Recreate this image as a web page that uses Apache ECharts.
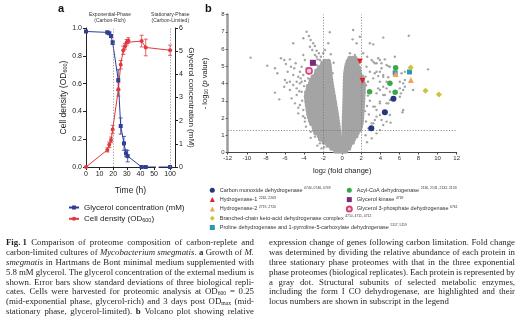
<!DOCTYPE html>
<html><head><meta charset="utf-8">
<script src="https://cdn.jsdelivr.net/npm/echarts@6/dist/echarts.min.js"></script>
<style>html,body{margin:0;padding:0;background:#fff}#c{width:523px;height:324px}</style>
</head><body><div id="c"></div>
<script>
// ---------------- Panel a data ----------------
const timeTicks = [0, 10, 20, 30, 40, 50, 100];
const glyTime = [0, 15.7, 17.1, 18.4, 19.6, 23.7, 25.5, 27.9, 29.4, 30.6, 40.9, 43.9, 100];
const glyConc = [5.85, 5.81, 5.77, 5.65, 5.37, 3.75, 1.77, 1.02, 0.59, 0.47, 0, 0, 0];
const glyErr  = [0.04, 0.06, 0.05, 0.06, 0.08, 0.45, 0.35, 0.3, 0.15, 0.25, 0.02, 0.02, 0.02];
const odTime = [0, 15.7, 17.1, 18.4, 19.6, 23.8, 25.5, 27.4, 28.7, 29.9, 31.1, 40.9, 43.9, 100];
const odVal  = [0.0, 0.123, 0.16, 0.195, 0.27, 0.56, 0.736, 0.84, 0.868, 0.897, 0.91, 0.906, 0.86, 0.84];
const odErr  = [0.0, 0.015, 0.02, 0.02, 0.03, 0.05, 0.03, 0.03, 0.02, 0.02, 0.02, 0.042, 0.06, 0.037];
const phaseTimes = [20, 100];

// ---------------- Panel b data ----------------
const coreLeftRows = [
[0.08,[-0.1,-0.38,-0.68]],[0.25,[-0.16,-0.47,-0.79,-1.08]],[0.42,[-0.21,-0.53,-0.87,-1.19,-1.48]],
[0.6,[-0.25,-0.58,-0.93,-1.27,-1.6,-1.88]],[0.78,[-0.29,-0.63,-0.98,-1.33,-1.68,-2.0,-2.27]],
[0.96,[-0.32,-0.67,-1.03,-1.38,-1.74,-2.08,-2.4]],[1.14,[-0.36,-0.71,-1.07,-1.43,-1.78,-2.13,-2.48,-2.76]],
[1.32,[-0.4,-0.75,-1.11,-1.47,-1.83,-2.19,-2.54,-2.88]],[1.5,[-0.43,-0.79,-1.15,-1.51,-1.87,-2.23,-2.59,-2.95]],
[1.68,[-0.47,-0.83,-1.19,-1.55,-1.91,-2.27,-2.63,-2.98,-3.2]],[1.86,[-0.52,-0.88,-1.24,-1.6,-1.95,-2.31,-2.67,-3.03,-3.32]],
[2.04,[-0.56,-0.92,-1.28,-1.64,-2.0,-2.36,-2.72,-3.08,-3.42]],[2.22,[-0.61,-0.97,-1.33,-1.69,-2.05,-2.41,-2.77,-3.13,-3.5]],
[2.4,[-0.66,-1.02,-1.38,-1.74,-2.1,-2.46,-2.82,-3.18,-3.55]],[2.58,[-0.71,-1.07,-1.43,-1.79,-2.15,-2.51,-2.87,-3.23,-3.6]],
[2.76,[-0.77,-1.13,-1.49,-1.85,-2.21,-2.57,-2.93,-3.29,-3.65]],[2.94,[-0.82,-1.18,-1.54,-1.9,-2.26,-2.62,-2.98,-3.34,-3.7]],
[3.12,[-0.88,-1.24,-1.6,-1.96,-2.32,-2.68,-3.04,-3.4,-3.72]],[3.3,[-0.93,-1.29,-1.65,-2.01,-2.37,-2.73,-3.09,-3.45,-3.74]],
[3.48,[-0.99,-1.35,-1.71,-2.07,-2.43,-2.79,-3.15,-3.5,-3.72]],[3.66,[-1.04,-1.4,-1.76,-2.12,-2.48,-2.84,-3.2,-3.56]],
[3.84,[-1.1,-1.46,-1.82,-2.18,-2.54,-2.9,-3.25,-3.54]],[4.02,[-1.15,-1.51,-1.87,-2.23,-2.59,-2.95,-3.3]],
[4.2,[-1.2,-1.56,-1.92,-2.28,-2.64,-3.0,-3.24]],[4.38,[-1.25,-1.61,-1.97,-2.33,-2.69,-3.04]],
[4.56,[-1.28,-1.64,-2.0,-2.36,-2.72]],[4.74,[-1.31,-1.67,-2.03,-2.39,-2.66]],[4.92,[-1.34,-1.7,-2.06,-2.38]],
[5.1,[-1.38,-1.74,-2.08]],[5.28,[-1.45,-1.8]]
];
const coreRightRows = [
[0.08,[0.08,0.36]],[0.25,[0.11,0.41,0.68]],[0.42,[0.13,0.45,0.77]],[0.6,[0.14,0.48,0.82,1.06]],
[0.78,[0.15,0.5,0.85,1.18]],[0.96,[0.17,0.52,0.87,1.22,1.44]],[1.14,[0.18,0.54,0.89,1.25,1.57]],
[1.32,[0.19,0.55,0.91,1.27,1.62,1.8]],[1.5,[0.2,0.56,0.92,1.28,1.64,1.9]],[1.68,[0.21,0.57,0.93,1.29,1.65,1.97]],
[1.86,[0.22,0.58,0.94,1.3,1.66,2.01]],[2.04,[0.23,0.59,0.95,1.31,1.67,2.04]],[2.22,[0.24,0.6,0.96,1.32,1.68,2.06]],
[2.4,[0.25,0.61,0.97,1.33,1.69,2.08]],[2.58,[0.26,0.62,0.98,1.34,1.7,2.1]],[2.76,[0.27,0.63,0.99,1.35,1.71,2.12]],
[2.94,[0.28,0.64,1.0,1.36,1.72,2.14]],[3.12,[0.29,0.65,1.01,1.37,1.73,2.16]],[3.3,[0.3,0.66,1.02,1.38,1.74,2.18]],
[3.48,[0.31,0.67,1.03,1.39,1.75,2.2]],[3.66,[0.31,0.67,1.03,1.39,1.75,2.21]],[3.84,[0.32,0.68,1.04,1.4,1.76,2.22]],
[4.02,[0.32,0.68,1.04,1.4,1.76,2.2]],[4.2,[0.33,0.69,1.05,1.41,1.77,2.12]],[4.38,[0.34,0.7,1.06,1.42,1.78,2.04]],
[4.56,[0.36,0.72,1.08,1.44,1.8]],[4.74,[0.4,0.76,1.12,1.48,1.77]],[4.92,[0.45,0.8,1.15,1.5,1.7]],
[5.1,[0.52,0.86,1.2,1.52]],[5.28,[0.62,0.95,1.28,1.48]],[5.46,[0.8,1.1,1.34]]
];
const grayScatter = [
[-9.6,5.5],[-7.85,5.03],[-7.05,4.88],[-6.8,4.59],[-6.42,5.46],[-6.07,5.36],[-5.9,5.13],[-5.48,5.4],[-5.37,4.97],
[-5.03,4.88],[-4.88,5.17],[-5.72,4.68],[-5.13,4.49],[-4.61,4.39],[-4.43,4.68],[-4.25,4.97],[-3.91,5.36],[-4.08,5.65],
[-5.13,6.33],[-4.08,6.62],[-3.73,7.0],[-3.49,6.75],[-3.31,6.52],[-3.04,6.33],[-2.86,6.17],[-3.38,6.13],[-3.14,5.94],
[-2.68,5.9],[-2.44,5.75],[-2.86,5.65],[-2.23,5.55],[-2.58,5.4],[-2.16,5.26],[-2.68,5.07],[-2.34,4.97],[-3.73,4.88],
[-4.08,4.49],[-3.56,4.3],[-3.04,4.39],[-2.51,4.59],[-4.77,4.1],[-5.48,4.1],[-6.0,4.2],[-4.25,4.1],
[-7.05,3.47],[-6.6,3.08],[-6.07,3.81],[-5.8,4.05],[-5.48,3.62],[-5.13,3.91],[-4.77,3.72],[-4.43,4.01],[-4.25,3.52],
[-4.77,3.33],[-5.3,3.14],[-3.91,3.23],[-4.95,2.85],[-4.43,2.75],[-4.08,2.46],[-4.61,2.27],[-3.38,1.88],[-3.91,1.79],
[-3.04,1.4],[-2.86,0.92],[-2.34,1.11],[-1.99,0.82],[-2.34,0.53],[-2.16,0.24],
[-4.2,3.0],[-4.5,3.55],[-4.0,3.85],[-4.35,4.3],[-3.9,4.15],[-4.6,2.6],[-4.1,2.1],[-3.8,1.5],[-3.3,1.2],[-3.9,2.0],
[-3.3,0.85],[-2.6,0.4],[-1.9,0.3],
[-1.3,6.97],[-1.46,6.33],[-1.99,5.75],[-2.34,5.36],[-1.81,5.94],[-2.68,5.55],[-1.71,5.17],[-1.2,5.7],[-0.9,5.2],[-1.0,4.6],
[1.15,7.1],[1.85,6.71],[1.09,6.56],[1.51,6.33],[2.9,6.33],[3.25,6.27],[0.81,5.75],[1.33,5.65],[2.2,5.75],[2.62,5.55],
[3.08,5.36],[3.42,5.17],[2.55,4.97],[2.9,4.68],[3.42,4.59],[0.81,5.36],[0.46,5.07],
[4.3,6.66],[6.98,6.77],[9.0,4.82],[5.52,5.55],[3.77,5.46],[3.95,5.36],[4.65,5.07],[5.0,4.97],
[3.25,5.26],[3.6,5.17],[4.12,4.88],[3.95,4.68],[3.77,4.43],[4.3,4.39],[3.25,4.3],[4.65,4.1],[4.3,3.81],[4.65,3.72],
[3.95,3.62],[3.6,3.43],[4.3,3.33],[5.0,3.52],[6.04,4.1],[6.57,4.2],[6.39,3.62],[7.43,3.62],[6.04,3.23],[5.0,3.04],
[4.65,2.85],[3.95,2.85],[3.25,2.66],[3.6,2.46],[3.95,2.17],[5.0,2.17],[3.42,1.88],[3.08,1.69],[6.32,2.33],[4.3,1.59],
[3.6,1.11],[4.12,5.17],[4.47,5.4],[4.82,5.01],[3.6,4.68],[4.3,4.49],[4.82,4.36],[3.95,4.1],[6.22,4.59],[6.57,4.68],
[6.04,3.72],[3.77,3.72],[4.47,3.33],[3.95,2.95],[3.42,2.66],[4.82,2.85],[3.6,2.08],[4.12,1.88],[3.25,1.69],[6.39,2.46],
[5.07,1.73],[3.95,1.3],[6.39,4.01],[6.57,3.81],[6.15,3.43],[4.65,1.79],
[2.5,3.9],[2.7,3.3],[2.6,2.7],[2.8,2.2],[2.5,1.8],[2.75,1.4],[2.45,1.0],[3.1,0.82],[2.6,0.6],[2.9,3.0],[2.45,4.4],
[2.7,4.1],[2.4,2.4]
];
const coPts   = [[3.05,1.4],[4.47,2.33],[5.37,3.12]];
const h1Pts   = [[1.85,5.28],[2.13,4.16]];
const h2Pts   = [[5.6,4.55],[7.2,4.2]];
const bckPts  = [[7.18,4.93],[8.73,3.58],[10.14,3.36]];
const proPts  = [[7.05,4.67],[5.55,4.62]];
const acylPts = [[2.87,3.52],[5.0,4.02],[5.55,3.5],[5.6,4.92]];
const gkPts   = [[-3.07,5.2]];
const g3pPts  = [[-3.47,4.73]];
const volcanoThresholds = {fold: [-2, 2], p: 1.3};

const names = {
  co: 'Carbon monoxide dehydrogenase', h1: 'Hydrogenase-1', h2: 'Hydrogenase-2',
  bck: 'Branched-chain keto-acid dehydrogenase complex',
  pro: 'Proline dehydrogenase and 1-pyrroline-5-carboxylate dehydrogenase',
  acyl: 'Acyl-CoA dehydrogenase', gk: 'Glycerol kinase', g3p: 'Glycerol 3-phosphate dehydrogenase'
};
const loci = {
  co: '0744, 0746, 0749', h1: '2262, 2263', h2: '2719, 2720', bck: '4710, 4711, 4712',
  pro: '5117, 5119', acyl: '2130, 2131, 2132, 2133', gk: '4769', g3p: '6761'
};

// ---------------- Caption ----------------
const capLeft = [
 '{b|Fig. 1} Comparison of proteome composition of carbon-replete and',
 'carbon-limited cultures of {i|Mycobacterium smegmatis}. {b|a} Growth of {i|M.}',
 '{i|smegmatis} in Hartmans de Bont minimal medium supplemented with',
 '5.8 mM glycerol. The glycerol concentration of the external medium is',
 'shown. Error bars show standard deviations of three biological repli-',
 'cates. Cells were harvested for proteomic analysis at OD{sub|600} = 0.25',
 '(mid-exponential phase, glycerol-rich) and 3 days post OD{sub|max} (mid-',
 'stationary phase, glycerol-limited). {b|b} Volcano plot showing relative'
];
const capRight = [
 'expression change of genes following carbon limitation. Fold change',
 'was determined by dividing the relative abundance of each protein in',
 'three stationary phase proteomes with that in the three exponential',
 'phase proteomes (biological replicates). Each protein is represented by',
 'a gray dot. Structural subunits of selected metabolic enzymes,',
 'including the form I CO dehydrogenase, are highlighted and their',
 'locus numbers are shown in subscript in the legend'
];

// ================= build =================
const SANS = '"Liberation Sans", Arial, sans-serif';
const SERIF = '"Liberation Serif", "Times New Roman", serif';
const BLUE = '#2e3f94', RED = '#e0383c', GRAY = '#a4a4a4';
const BREAK_POS = 61.8;           // axis position standing for t = 100 h (broken axis)
const pos = t => (t > 50 ? BREAK_POS : t);
const tickPos = timeTicks.map(pos);

const rowsToPts = rows => rows.flatMap(([v, xs]) => xs.map(x => [x, v]));
const coreLeft = rowsToPts(coreLeftRows);
const coreRight = rowsToPts(coreRightRows);

function errSeries(xs, ys, es, yIdx, color) {
  return {
    type: 'custom', xAxisIndex: 0, yAxisIndex: yIdx, silent: true, z: 1,
    encode: {x: 0, y: 1},
    data: xs.map((t, i) => [pos(t), ys[i], es[i]]),
    renderItem: (p, api) => {
      const x = api.value(0), y = api.value(1), e = api.value(2);
      const a = api.coord([x, y + e]), b = api.coord([x, y - e]);
      const w = 2, st = {stroke: color, lineWidth: 0.8};
      return {type: 'group', children: [
        {type: 'line', shape: {x1: a[0], y1: a[1], x2: b[0], y2: b[1]}, style: st},
        {type: 'line', shape: {x1: a[0] - w, y1: a[1], x2: a[0] + w, y2: a[1]}, style: st},
        {type: 'line', shape: {x1: b[0] - w, y1: b[1], x2: b[0] + w, y2: b[1]}, style: st}
      ]};
    }
  };
}

function hl(key, data, symbol, size, color, extra) {
  return Object.assign({
    name: names[key], type: 'scatter', xAxisIndex: 1, yAxisIndex: 2, data: data,
    symbol: symbol, symbolSize: size, itemStyle: {color: color, opacity: 1}, z: 5
  }, extra || {});
}

const legendText = {fontSize: 5.5, lineHeight: 7, color: '#333', fontFamily: SANS,
  rich: {s: {fontSize: 3.4, lineHeight: 3.6, verticalAlign: 'top', fontFamily: SANS, color: '#333'}}};
const legendFmt = n => {
  const key = Object.keys(names).find(k => names[k] === n);
  return n + ' {s|' + loci[key] + '}';
};

const subRich = (fs) => ({sub: {fontSize: fs, lineHeight: fs, verticalAlign: 'bottom', fontFamily: SANS, color: '#222'},
                          i: {fontStyle: 'italic', fontFamily: SANS, color: '#222'}});

const option = {
  animation: false,
  textStyle: {fontFamily: SANS},
  grid: [
    {left: 86, top: 28, width: 89, height: 139, outerBoundsMode: 'none'},
    {left: 227.7, top: 14.5, width: 229, height: 138, outerBoundsMode: 'none'}
  ],
  xAxis: [
    {gridIndex: 0, type: 'value', min: 0, max: 65.4,
     axisLine: {show: true, lineStyle: {color: '#222', width: 1}},
     axisTick: {show: true, length: 3, customValues: tickPos, lineStyle: {color: '#222'}},
     axisLabel: {customValues: tickPos, fontSize: 7, color: '#222', margin: 4,
       formatter: v => String(timeTicks[tickPos.indexOf(v)] ?? v)},
     splitLine: {show: false},
     name: 'Time (h)', nameLocation: 'middle', nameGap: 19,
     nameTextStyle: {fontSize: 8.5, color: '#222'}},
    {gridIndex: 1, type: 'value', min: -12, max: 12, interval: 2,
     axisLine: {show: true, lineStyle: {color: '#444', width: 1}},
     axisTick: {show: true, length: 2, lineStyle: {color: '#444'}},
     axisLabel: {fontSize: 6, color: '#333', margin: 3},
     splitLine: {show: false},
     name: 'log{sub|2} (fold change)', nameLocation: 'middle', nameGap: 14,
     nameTextStyle: {fontSize: 7.5, color: '#222', rich: subRich(5)}}
  ],
  yAxis: [
    {gridIndex: 0, type: 'value', min: 0, max: 1, interval: 0.2, position: 'left',
     axisLine: {show: true, onZero: false, lineStyle: {color: '#222', width: 1}},
     axisTick: {show: true, length: 3, lineStyle: {color: '#222'}},
     axisLabel: {fontSize: 7, color: '#222', margin: 4, formatter: v => v.toFixed(1)},
     splitLine: {show: false},
     name: 'Cell density (OD{sub|600})', nameLocation: 'middle', nameGap: 18,
     nameTextStyle: {fontSize: 8.5, color: '#222', rich: subRich(5.5)}},
    {gridIndex: 0, type: 'value', min: 0, max: 6, interval: 1, position: 'right',
     axisLine: {show: true, onZero: false, lineStyle: {color: '#222', width: 1}},
     axisTick: {show: true, length: 3, lineStyle: {color: '#222'}},
     axisLabel: {fontSize: 7, color: '#222', margin: 4},
     splitLine: {show: false},
     name: 'Glycerol concentration (mM)', nameLocation: 'middle', nameGap: 11, nameRotate: -90,
     nameTextStyle: {fontSize: 8, color: '#222'}},
    {gridIndex: 1, type: 'value', min: 0, max: 8, interval: 1,
     axisLine: {show: true, onZero: false, lineStyle: {color: '#9c9c9c', width: 2.5}},
     axisTick: {show: true, length: 2, lineStyle: {color: '#555'}},
     axisLabel: {fontSize: 6, color: '#333', margin: 3},
     splitLine: {show: false},
     name: '- log{sub|10} ({i|p} value)', nameLocation: 'middle', nameGap: 19,
     nameTextStyle: {fontSize: 7.5, color: '#222', rich: subRich(5)}}
  ],
  legend: [
    {data: ['Glycerol concentration (mM)', 'Cell density (OD600)'], orient: 'vertical',
     left: 68, top: 202.5, itemWidth: 10, itemHeight: 5, itemGap: 1.3, padding: 0, selectedMode: false,
     formatter: n => n.replace('OD600', 'OD{sub|600}'),
     textStyle: {fontSize: 8, lineHeight: 10, color: '#222', fontFamily: SANS, rich: subRich(5.5)}},
    {data: [names.co, names.h1, names.h2, names.bck, names.pro], orient: 'vertical',
     left: 209.8, top: 186.8, itemWidth: 5, itemHeight: 5, itemGap: 2.3, padding: 0, selectedMode: false,
     formatter: legendFmt, textStyle: legendText},
    {data: [names.acyl, names.gk, names.g3p], orient: 'vertical',
     left: 345.8, top: 186.8, itemWidth: 5, itemHeight: 5, itemGap: 2.3, padding: 0, selectedMode: false,
     formatter: legendFmt, textStyle: legendText}
  ],
  series: [
    errSeries(glyTime, glyConc, glyErr, 1, BLUE),
    errSeries(odTime, odVal, odErr, 0, RED),
    {name: 'Glycerol concentration (mM)', type: 'line', xAxisIndex: 0, yAxisIndex: 1,
     data: glyTime.map((t, i) => [pos(t), glyConc[i]]), symbol: 'rect', symbolSize: 4,
     itemStyle: {color: BLUE}, lineStyle: {color: BLUE, width: 1}, z: 3,
     markLine: {silent: true, symbol: 'none', label: {show: false},
       lineStyle: {type: [1.2, 1.6], color: '#888', width: 0.8},
       data: phaseTimes.map(t => ({xAxis: pos(t)}))}},
    {name: 'Cell density (OD600)', type: 'line', xAxisIndex: 0, yAxisIndex: 0,
     data: odTime.map((t, i) => [pos(t), odVal[i]]), symbol: 'circle', symbolSize: 4,
     itemStyle: {color: RED}, lineStyle: {color: RED, width: 1}, z: 3},
    {name: 'core', type: 'scatter', xAxisIndex: 1, yAxisIndex: 2, data: coreLeft.concat(coreRight),
     symbol: 'circle', symbolSize: 5.2, itemStyle: {color: GRAY, opacity: 1}, z: 2, silent: true},
    {name: 'scatter', type: 'scatter', xAxisIndex: 1, yAxisIndex: 2, data: grayScatter,
     symbol: 'circle', symbolSize: 2.4, itemStyle: {color: GRAY, opacity: 1}, z: 2, silent: true,
     markLine: {silent: true, symbol: 'none', label: {show: false},
       lineStyle: {type: [1.2, 1.6], color: '#777', width: 0.8},
       data: [{xAxis: volcanoThresholds.fold[0]}, {xAxis: volcanoThresholds.fold[1]}, {yAxis: volcanoThresholds.p}]}},
    hl('pro', proPts, 'rect', 5, '#2a98b0'),
    hl('co', coPts, 'circle', 6, '#26367f'),
    hl('h1', h1Pts, 'triangle', 6, '#d9262b', {symbolRotate: 180}),
    hl('h2', h2Pts, 'triangle', 6, '#f2a25a'),
    hl('bck', bckPts, 'diamond', 6, '#c9c43a'),
    hl('acyl', acylPts, 'circle', 5.5, '#3aa845'),
    hl('gk', gkPts, 'rect', 6, '#7a2b7c'),
    hl('g3p', g3pPts, 'circle', 6, '#f3c6d8', {itemStyle: {color: '#f6d3e0', borderColor: '#d8407e', borderWidth: 1.6, opacity: 1}})
  ],
  graphic: []
};

// ---- text overlays ----
const g = [];
g.push({type: 'text', x: 58, y: 3, style: {text: 'a', fontSize: 11, fontWeight: 'bold', fontFamily: SANS, fill: '#111'}});
g.push({type: 'text', x: 205, y: 3, style: {text: 'b', fontSize: 11, fontWeight: 'bold', fontFamily: SANS, fill: '#111'}});
g.push({type: 'text', x: 110, y: 17.5, style: {text: 'Exponential-Phase\n(Carbon-Rich)', fontSize: 5, lineHeight: 5.6,
  align: 'center', verticalAlign: 'middle', fontFamily: SANS, fill: '#333'}});
g.push({type: 'text', x: 170.3, y: 17.5, style: {text: 'Stationary-Phase\n(Carbon-Limited)', fontSize: 5, lineHeight: 5.6,
  align: 'center', verticalAlign: 'middle', fontFamily: SANS, fill: '#333'}});
// axis break
const pxPerUnit = 89 / 65.4;
g.push({type: 'rect', shape: {x: 86 + 51.3 * pxPerUnit, y: 165, width: 2.8, height: 4}, style: {fill: '#fff'}, z: 100});

// caption, justified word by word
const CS = 8.8, CLH = 9.8;
const ctx = document.createElement('canvas').getContext('2d');
const fontFor = st => st === 'i' ? `italic ${CS}px ${SERIF}` : st === 'b' ? `bold ${CS}px ${SERIF}`
  : st === 'sub' ? `${(CS * 0.65).toFixed(2)}px ${SERIF}` : `${CS}px ${SERIF}`;
function splitWords(line) {
  const out = []; let cur = '', depth = 0;
  for (const ch of line) {
    if (ch === '{') depth++;
    if (ch === '}') depth--;
    if (ch === ' ' && depth === 0) { if (cur) out.push(cur); cur = ''; } else cur += ch;
  }
  if (cur) out.push(cur);
  return out;
}
function measure(word) {
  let w = 0; const re = /\{(\w+)\|([^}]*)\}|([^{]+)/g; let m;
  while ((m = re.exec(word))) {
    const st = m[1] || '', txt = m[1] ? m[2] : m[3];
    ctx.font = fontFor(st); w += ctx.measureText(txt).width;
  }
  return w;
}
const capRich = {
  i: {fontStyle: 'italic', fontSize: CS, fontFamily: SERIF, fill: '#231f20', lineHeight: CLH},
  b: {fontWeight: 'bold', fontSize: CS, fontFamily: SERIF, fill: '#231f20', lineHeight: CLH},
  sub: {fontSize: CS * 0.65, fontFamily: SERIF, fill: '#231f20', lineHeight: CS * 0.65, verticalAlign: 'bottom'}
};
function layoutColumn(lines, x0, width, y0, lastJustified) {
  lines.forEach((line, li) => {
    const words = splitWords(line);
    const ws = words.map(measure);
    const sum = ws.reduce((a, b) => a + b, 0);
    ctx.font = fontFor('');
    const sp = ctx.measureText(' ').width;
    let gap = sp;
    const isLast = li === lines.length - 1;
    if (!(isLast && !lastJustified) && words.length > 1) gap = Math.max(sp * 0.5, (width - sum) / (words.length - 1));
    let x = x0;
    const y = y0 + li * CLH;
    words.forEach((w, wi) => {
      g.push({type: 'text', x: x, y: y, style: {text: w, fontSize: CS, fontFamily: SERIF, fill: '#231f20',
        lineHeight: CLH, verticalAlign: 'middle', rich: capRich}});
      x += ws[wi] + gap;
    });
  });
}
layoutColumn(capLeft, 6, 248, 243, true);
layoutColumn(capRight, 269, 246, 243, false);

option.graphic = g;
const chart = echarts.init(document.getElementById('c'), null, {width: 523, height: 324});
chart.setOption(option);
</script>
</body></html>
